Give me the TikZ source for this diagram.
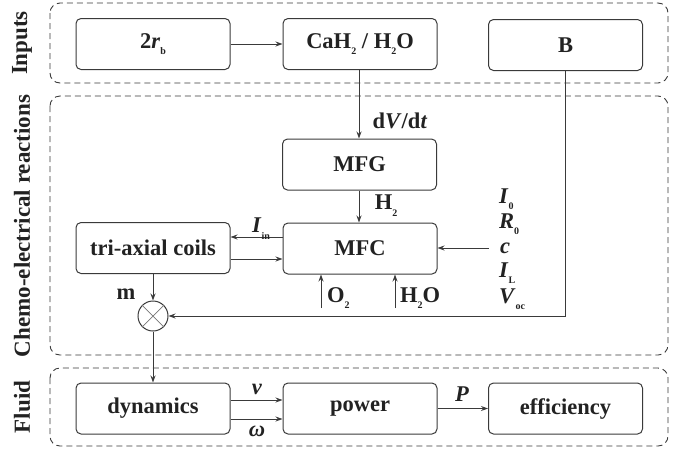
\documentclass[tikz,border=0pt]{standalone}
\usepackage{fontspec}
\setmainfont{Liberation Serif}
\usetikzlibrary{arrows.meta}
\definecolor{ln}{HTML}{3A3A3A}
\definecolor{tx}{HTML}{222222}
\newcommand\sbx[1]{\raisebox{-0.3em}{\fontsize{10}{10}\selectfont\bfseries #1}}
\newcommand\bigf{\fontsize{22.5}{26}\selectfont\bfseries}
\begin{document}
\begin{tikzpicture}[x=1pt,y=-1pt,
  blk/.style={draw=ln,line width=1pt,rounded corners=5pt,minimum width=154pt,minimum height=51pt,inner sep=0pt,font=\bigf,text=tx},
  frame/.style={draw=ln,line width=0.9pt,dash pattern=on 6pt off 4pt,rounded corners=10pt},
  arr/.style={draw=ln,line width=1pt,-{Stealth[length=7pt,width=5pt]}},
  lbl/.style={font=\bigf,text=tx,inner sep=0pt},
  prm/.style={lbl,anchor=west,text height=14pt,text depth=2pt},
  side/.style={font=\fontsize{23}{26}\selectfont\bfseries,text=tx,rotate=90,inner sep=0pt}]
\useasboundingbox (0,0) rectangle (687,448);
% frames
\draw[frame] (50,3) rectangle (668,83);
\draw[frame] (50,96) rectangle (668,355);
\draw[frame] (50,368) rectangle (668,446);
\node[side] (lin) at (22,43) {Inputs};
\node[side] (lch) at (22,226) {Chemo-electrical reactions};
\node[side] (lfl) at (22,407) {Fluid};
% blocks
\node[blk] (rb) at (153,44) {2\textit{r}\sbx{b}};
\node[blk] (cah) at (360,44) {CaH\sbx{2} / H\sbx{2}O};
\node[blk] (B) at (565.5,45) {B};
\node[blk] (mfg) at (359.5,164.5) {MFG};
\node[blk] (coil) at (153,248) {tri-axial coils};
\node[blk] (mfc) at (360,248.5) {MFC};
\node[blk] (dyn) at (153,408.5) {dynamics};
\node[blk] (pow) at (360,408.5) {power};
\node[blk] (eff) at (565.5,408.5) {efficiency};
\node[draw=ln,line width=1pt,circle,minimum size=30pt,inner sep=0pt] (mx) at (153,316) {};
\draw[ln!70,line width=0.7pt] (mx.north west) -- (mx.south east) (mx.north east) -- (mx.south west);
% connectors
\draw[arr] (rb) -- (cah);
\draw[arr] (cah.south -| 359,0) -- (mfg.north -| 359,0);
\node[lbl] (dv) at (400,121) {d\textit{V}/d\textit{t}};
\draw[arr] (mfg.south -| 359,0) -- (mfc.north -| 359,0);
\node[lbl] (h2) at (386,206) {H\sbx{2}};
\draw[arr] (mfc.west |- 0,237) -- (coil.east |- 0,237);
\node[lbl] (iin) at (261,229) {\textit{I}\sbx{in}};
\draw[arr] (coil.east |- 0,259) -- (mfc.west |- 0,259);
\draw[arr] (coil.south) -- (mx.north);
\node[lbl] (m) at (126,294) {m};
\coordinate (bc) at (565,316);
\draw[arr] (B.south -| bc) -- (bc) -- (mx.east);
\coordinate (o2s) at (321,308);
\draw[arr] (o2s) -- (mfc.south -| o2s);
\node[lbl,anchor=west] (o2) at (327,298) {O\sbx{2}};
\coordinate (h2os) at (395,308);
\draw[arr] (h2os) -- (mfc.south -| h2os);
\node[lbl,anchor=west] (h2o) at (400,298) {H\sbx{2}O};
\coordinate (cs) at (489,248);
\draw[arr] (cs) -- (mfc.east |- cs);
\node[prm] (p1) at (499,197) {\textit{I}\sbx{0}};
\node[prm] (p2) at (499,222) {\textit{R}\sbx{0}};
\node[prm] (p3) at (500,247) {\textit{c}};
\node[prm] (p4) at (499,271) {\textit{I}\sbx{L}};
\node[prm] (p5) at (499,297) {\textit{V}\sbx{oc}};
\draw[arr] (mx.south) -- (dyn.north);
\draw[arr] (dyn.east |- 0,400) -- (pow.west |- 0,400);
\draw[arr] (dyn.east |- 0,419) -- (pow.west |- 0,419);
\node[lbl] (v) at (257,389) {\textit{v}};
\node[lbl] (w) at (257,431) {\textit{ω}};
\draw[arr] (pow) -- (eff);
\node[lbl] (P) at (462,394) {\textit{P}};
\end{tikzpicture}
\end{document}
